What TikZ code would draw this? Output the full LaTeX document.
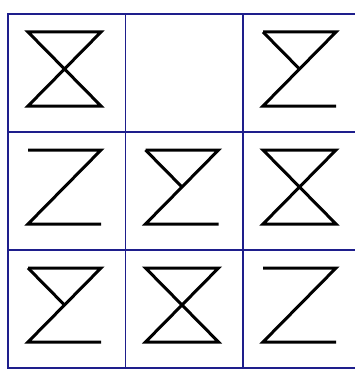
\documentclass[tikz,border=0pt]{standalone}
\usetikzlibrary{calc}
\definecolor{gradeazul}{RGB}{30,30,140}
\begin{document}
\begin{tikzpicture}[x=1pt, y=-1pt,
    grade/.style={draw=gradeazul, line width=1.9pt},
    figura/.style={draw=black, line width=3pt, line join=miter}]
                \useasboundingbox (0,0) rectangle (355,369);
                % Grade
                \draw[grade] (8,14) rectangle (360.5,368);
                \foreach \i in {1,2} {
                    \draw[grade] (8+\i*117.5,14) -- (8+\i*117.5,368);
                    \draw[grade] (8,14+\i*118) -- (360.5,14+\i*118);
                }
                % Ampulhetas
                \foreach \c/\r in {0/0, 2/1, 1/2} {
                    \begin{scope}[shift={(28+\c*117.5,32+\r*118)}]
                        \draw[figura] (0,0) -- (73,0) -- (0,74) -- (73,74) -- cycle;
                    \end{scope}
                }
                % Letras Z
                \foreach \c/\r in {0/1, 2/2} {
                    \begin{scope}[shift={(28+\c*117.5,32+\r*118)}]
                        \draw[figura] (0,0) -- (73,0) -- (0,74) -- (73,74);
                    \end{scope}
                }
                % Z com meia diagonal
                \foreach \c/\r in {2/0, 1/1, 0/2} {
                    \begin{scope}[shift={(28+\c*117.5,32+\r*118)}]
                        \draw[figura] (0,0) -- (73,0) -- (0,74) -- (73,74);
                        \draw[figura] (0,0) -- (36.5,37);
                    \end{scope}
                }
            \end{tikzpicture}
\end{document}
